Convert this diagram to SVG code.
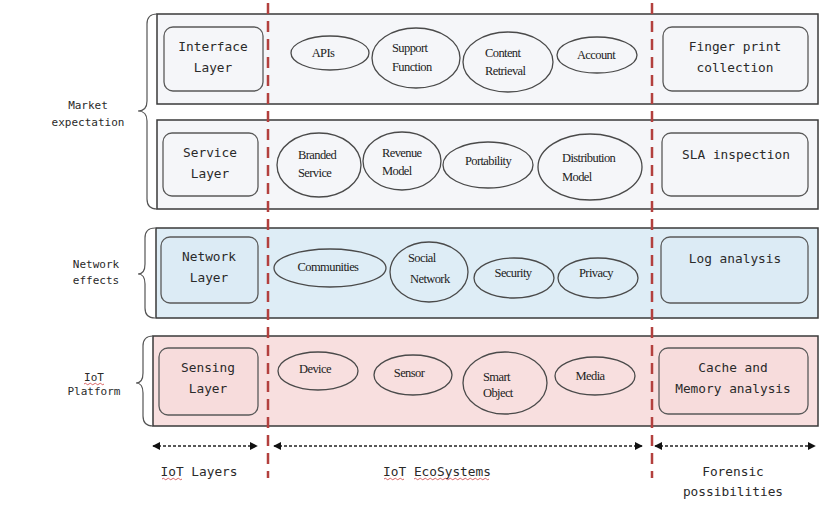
<svg xmlns="http://www.w3.org/2000/svg" width="836" height="512" viewBox="0 0 836 512">
<style>
.band{stroke:#3a3a3a;stroke-width:1.5}
.b12{fill:#f5f6f9}
.b3{fill:#deedf6}
.b4{fill:#f8dfdf}
.lbox{stroke:#5a5a5a;stroke-width:1.3}
.ell{fill:none;stroke:#4a4a4a;stroke-width:1.3}
.mono{font-family:"DejaVu Sans Mono","Liberation Mono",monospace;font-size:12.8px;fill:#2a2a2a;text-anchor:middle}
.side{font-family:"DejaVu Sans Mono","Liberation Mono",monospace;font-size:11px;fill:#2a2a2a;text-anchor:middle}
.ser{font-family:"Liberation Serif","DejaVu Serif",serif;font-size:12.5px;fill:#222;letter-spacing:-0.6px}
.mid{text-anchor:middle}
.brace{fill:none;stroke:#555;stroke-width:1.2}
.red{stroke:#b3403e;stroke-width:2.5;stroke-dasharray:11 7;fill:none}
.arr{stroke:#222;stroke-width:1.5;stroke-dasharray:3 2;fill:none;marker-start:url(#ah);marker-end:url(#ah)}
.sq{fill:none;stroke:#d04040;stroke-width:0.8}
</style>
<defs>
<marker id="ah" viewBox="0 0 10 10" refX="9" refY="5" markerWidth="8" markerHeight="8" markerUnits="userSpaceOnUse" orient="auto-start-reverse">
<path d="M0,0 L10,5 L0,10 z" fill="#111"/>
</marker>
</defs>
<rect width="836" height="512" fill="#fff"/>

<g id="bands">
<rect class="band b12" x="157" y="14" width="661" height="90"/>
<rect class="band b12" x="157" y="120" width="661" height="89"/>
<rect class="band b3" x="156" y="228" width="662" height="90"/>
<rect class="band b4" x="153" y="336" width="665" height="90"/>
</g>

<g id="side-labels">
<g id="market">
<path class="brace" d="M157,14 Q147,14 147,24 L147,101 Q147,111 138,111 Q147,111 147,121 L147,199 Q147,209 157,209"/>
<text class="side" x="88" y="109">Market</text>
<text class="side" x="88" y="126">expectation</text>
</g>
<g id="network-effects">
<path class="brace" d="M155,228 Q145,228 145,238 L145,264 Q145,274 138,274 Q145,274 145,284 L145,308 Q145,318 155,318"/>
<text class="side" x="96" y="268">Network</text>
<text class="side" x="96" y="284">effects</text>
</g>
<g id="iot-platform">
<path class="brace" d="M153,336 Q143,336 143,346 L143,373 Q143,383 136,383 Q143,383 143,393 L143,416 Q143,426 153,426"/>
<text class="side" x="94" y="381">IoT</text>
<path class="sq" d="M84,384 q1.25,-1.5 2.5,0 t2.5,0 t2.5,0 t2.5,0 t2.5,0 t2.5,0 t2.5,0 t2.5,0"/>
<text class="side" x="94" y="395">Platform</text>
</g>
</g>

<g id="layer-nodes">
<g id="interface-layer">
<rect class="lbox" x="164" y="27" width="99" height="64" rx="9" fill="#f5f6f9"/>
<text class="mono" x="213" y="51">Interface</text>
<text class="mono" x="213" y="72">Layer</text>
</g>
<g id="service-layer">
<rect class="lbox" x="163" y="133" width="95" height="63" rx="9" fill="#f5f6f9"/>
<text class="mono" x="210" y="157">Service</text>
<text class="mono" x="210" y="178">Layer</text>
</g>
<g id="network-layer">
<rect class="lbox" x="161" y="237" width="97" height="66" rx="9" fill="#dcebf5"/>
<text class="mono" x="209" y="261">Network</text>
<text class="mono" x="209" y="282">Layer</text>
</g>
<g id="sensing-layer">
<rect class="lbox" x="159" y="348" width="99" height="67" rx="9" fill="#f7dcdc"/>
<text class="mono" x="208" y="372">Sensing</text>
<text class="mono" x="208" y="393">Layer</text>
</g>
</g>

<g id="forensic-nodes">
<g id="fingerprint">
<rect class="lbox" x="663" y="27" width="145" height="64" rx="9" fill="#f5f6f9"/>
<text class="mono" x="735" y="51">Finger print</text>
<text class="mono" x="735" y="72">collection</text>
</g>
<g id="sla">
<rect class="lbox" x="662" y="133" width="146" height="63" rx="9" fill="#f5f6f9"/>
<text class="mono" x="736" y="159">SLA inspection</text>
</g>
<g id="log">
<rect class="lbox" x="661" y="237" width="147" height="66" rx="9" fill="#dcebf5"/>
<text class="mono" x="735" y="263">Log analysis</text>
</g>
<g id="cache">
<rect class="lbox" x="659" y="348" width="149" height="66" rx="9" fill="#f7dcdc"/>
<text class="mono" x="733" y="372">Cache and</text>
<text class="mono" x="733" y="393">Memory analysis</text>
</g>
</g>

<g id="ecosystem-nodes">
<g id="apis"><ellipse class="ell" cx="330" cy="53" rx="39" ry="17"/><text class="ser mid" x="323" y="57">APIs</text></g>
<g id="support"><ellipse class="ell" cx="416" cy="58" rx="44" ry="30"/><text class="ser" x="392" y="52">Support</text><text class="ser" x="392" y="71">Function</text></g>
<g id="content"><ellipse class="ell" cx="508" cy="62" rx="45" ry="30"/><text class="ser" x="485" y="57">Content</text><text class="ser" x="485" y="75">Retrieval</text></g>
<g id="account"><ellipse class="ell" cx="597" cy="55" rx="40" ry="18"/><text class="ser mid" x="596" y="59">Account</text></g>

<g id="branded"><ellipse class="ell" cx="319" cy="165" rx="42" ry="32"/><text class="ser" x="298" y="159">Branded</text><text class="ser" x="298" y="177">Service</text></g>
<g id="revenue"><ellipse class="ell" cx="402" cy="161" rx="39" ry="29"/><text class="ser" x="382" y="157">Revenue</text><text class="ser" x="382" y="175">Model</text></g>
<g id="portability"><ellipse class="ell" cx="488" cy="165" rx="45" ry="23"/><text class="ser mid" x="488" y="165">Portability</text></g>
<g id="distribution"><ellipse class="ell" cx="590" cy="167" rx="52" ry="33"/><text class="ser" x="562" y="162">Distribution</text><text class="ser" x="562" y="181">Model</text></g>

<g id="communities"><ellipse class="ell" cx="330" cy="268" rx="56" ry="19"/><text class="ser mid" x="328" y="271">Communities</text></g>
<g id="social"><ellipse class="ell" cx="429" cy="272" rx="39" ry="30"/><text class="ser" x="408" y="262">Social</text><text class="ser" x="410" y="283">Network</text></g>
<g id="security"><ellipse class="ell" cx="514" cy="278" rx="40" ry="20"/><text class="ser mid" x="513" y="277">Security</text></g>
<g id="privacy"><ellipse class="ell" cx="598" cy="278" rx="40" ry="20"/><text class="ser mid" x="596" y="277">Privacy</text></g>

<g id="device"><ellipse class="ell" cx="318" cy="371" rx="40" ry="19"/><text class="ser mid" x="315" y="373">Device</text></g>
<g id="sensor"><ellipse class="ell" cx="413" cy="375" rx="39" ry="20"/><text class="ser mid" x="409" y="377">Sensor</text></g>
<g id="smart-object"><ellipse class="ell" cx="505" cy="383" rx="42" ry="31"/><text class="ser" x="483" y="381">Smart</text><text class="ser" x="483" y="397">Object</text></g>
<g id="media"><ellipse class="ell" cx="595" cy="376" rx="40" ry="19"/><text class="ser mid" x="590" y="380">Media</text></g>
</g>

<g id="connectors">
<line class="red" x1="268" y1="3" x2="268" y2="478"/>
<line class="red" x1="652" y1="3" x2="652" y2="478"/>
<line class="arr" x1="153" y1="446" x2="257" y2="446"/>
<line class="arr" x1="274" y1="446" x2="642" y2="446"/>
<line class="arr" x1="655" y1="446" x2="815" y2="446"/>
</g>

<g id="bottom-labels">
<text class="mono" x="199" y="476">IoT Layers</text>
<path class="sq" d="M162,479 q1.25,-1.5 2.5,0 t2.5,0 t2.5,0 t2.5,0 t2.5,0 t2.5,0 t2.5,0 t2.5,0"/>
<text class="mono" x="437" y="476">IoT EcoSystems</text>
<path class="sq" d="M384,479 q1.25,-1.5 2.5,0 t2.5,0 t2.5,0 t2.5,0 t2.5,0 t2.5,0 t2.5,0 t2.5,0"/>
<path class="sq" d="M414,479 q1.25,-1.5 2.5,0 t2.5,0 t2.5,0 t2.5,0 t2.5,0 t2.5,0 t2.5,0 t2.5,0 t2.5,0 t2.5,0 t2.5,0 t2.5,0 t2.5,0 t2.5,0 t2.5,0 t2.5,0 t2.5,0 t2.5,0 t2.5,0 t2.5,0 t2.5,0 t2.5,0 t2.5,0 t2.5,0 t2.5,0 t2.5,0 t2.5,0 t2.5,0 t2.5,0 t2.5,0"/>
<text class="mono" x="733" y="476">Forensic</text>
<text class="mono" x="733" y="496">possibilities</text>
</g>
</svg>
